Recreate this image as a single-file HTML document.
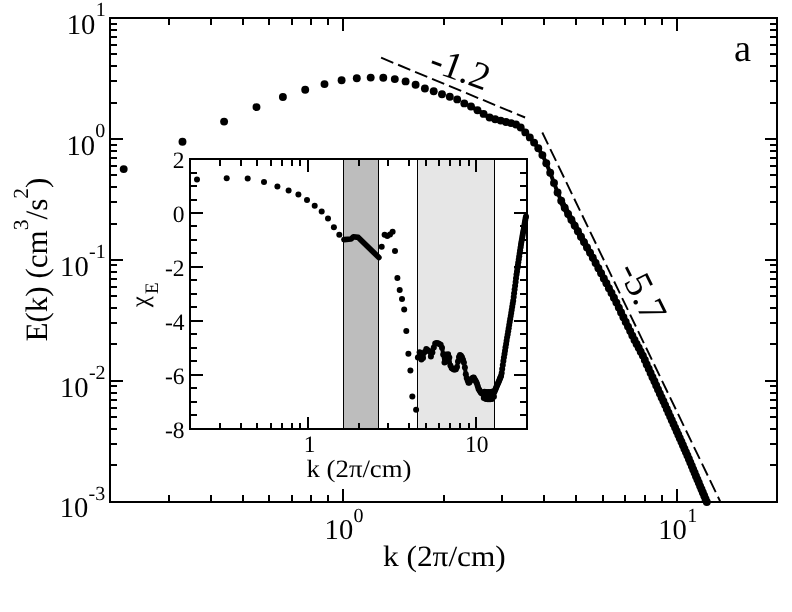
<!DOCTYPE html>
<html><head><meta charset="utf-8"><title>E(k)</title>
<style>
html,body{margin:0;padding:0;background:#fff;}
svg{display:block;will-change:transform;}
text{font-family:"Liberation Serif",serif;fill:#000;text-rendering:geometricPrecision;}
</style></head><body>
<svg width="792" height="612" viewBox="0 0 792 612">
<rect x="0" y="0" width="792" height="612" fill="#fff"/>
<g fill="#000">
<circle cx="123.7" cy="169.1" r="3.95"/>
<circle cx="182.5" cy="141.7" r="3.95"/>
<circle cx="224.1" cy="121.6" r="3.95"/>
<circle cx="256.5" cy="107.1" r="3.95"/>
<circle cx="282.9" cy="97.0" r="3.95"/>
<circle cx="305.2" cy="89.8" r="3.95"/>
<circle cx="324.5" cy="84.1" r="3.95"/>
<circle cx="341.6" cy="80.2" r="3.95"/>
<circle cx="356.8" cy="78.2" r="3.95"/>
<circle cx="370.7" cy="77.6" r="3.95"/>
<circle cx="383.3" cy="77.7" r="3.95"/>
<circle cx="394.8" cy="79.1" r="3.95"/>
<circle cx="405.6" cy="81.4" r="3.95"/>
<circle cx="415.6" cy="84.8" r="3.95"/>
<circle cx="424.9" cy="88.5" r="3.95"/>
<circle cx="433.7" cy="91.2" r="3.95"/>
<circle cx="442.0" cy="94.3" r="3.95"/>
<circle cx="449.8" cy="96.7" r="3.95"/>
<circle cx="457.2" cy="99.4" r="3.95"/>
<circle cx="464.3" cy="103.4" r="3.95"/>
<circle cx="471.0" cy="106.5" r="3.95"/>
<circle cx="477.5" cy="110.2" r="3.95"/>
<circle cx="483.6" cy="113.9" r="3.95"/>
<circle cx="489.6" cy="117.5" r="3.95"/>
<circle cx="495.2" cy="119.2" r="3.95"/>
<circle cx="500.7" cy="120.6" r="3.95"/>
<circle cx="506.0" cy="122.0" r="3.95"/>
<circle cx="511.1" cy="123.1" r="3.95"/>
<circle cx="516.0" cy="124.5" r="3.95"/>
<circle cx="520.7" cy="127.5" r="3.95"/>
<circle cx="525.3" cy="132.4" r="3.95"/>
<circle cx="529.8" cy="137.4" r="3.95"/>
<circle cx="534.1" cy="142.6" r="3.95"/>
<circle cx="538.3" cy="148.3" r="3.95"/>
<circle cx="542.4" cy="155.1" r="3.95"/>
<circle cx="546.3" cy="163.2" r="3.95"/>
<circle cx="550.2" cy="172.8" r="3.95"/>
<circle cx="554.0" cy="182.9" r="3.95"/>
<circle cx="557.6" cy="192.5" r="3.95"/>
<circle cx="561.2" cy="200.7" r="3.95"/>
<circle cx="564.7" cy="207.8" r="3.95"/>
<circle cx="568.1" cy="213.9" r="3.95"/>
<circle cx="571.4" cy="219.8" r="3.95"/>
<circle cx="574.7" cy="225.6" r="3.95"/>
<circle cx="577.9" cy="231.2" r="3.95"/>
<circle cx="581.0" cy="236.7" r="3.95"/>
<circle cx="584.0" cy="242.1" r="3.95"/>
<circle cx="587.0" cy="247.4" r="3.95"/>
<circle cx="590.0" cy="252.6" r="3.95"/>
<circle cx="592.8" cy="257.7" r="3.95"/>
<circle cx="595.6" cy="262.9" r="3.95"/>
<circle cx="598.4" cy="268.2" r="3.95"/>
<circle cx="601.1" cy="273.3" r="3.95"/>
<circle cx="603.8" cy="278.4" r="3.95"/>
<circle cx="606.4" cy="283.3" r="3.95"/>
<circle cx="608.9" cy="288.2" r="3.95"/>
<circle cx="611.5" cy="293.0" r="3.95"/>
<circle cx="613.9" cy="297.7" r="3.95"/>
<circle cx="616.4" cy="302.6" r="3.95"/>
<circle cx="618.8" cy="307.6" r="3.95"/>
<circle cx="621.1" cy="312.4" r="3.95"/>
<circle cx="623.4" cy="317.2" r="3.95"/>
<circle cx="625.7" cy="321.9" r="3.95"/>
<circle cx="628.0" cy="326.6" r="3.95"/>
<circle cx="630.2" cy="331.1" r="3.95"/>
<circle cx="632.3" cy="335.6" r="3.95"/>
<circle cx="634.5" cy="339.9" r="3.95"/>
<circle cx="636.6" cy="343.9" r="3.95"/>
<circle cx="638.7" cy="347.8" r="3.95"/>
<circle cx="640.7" cy="351.7" r="3.95"/>
<circle cx="642.8" cy="355.6" r="3.95"/>
<circle cx="644.8" cy="360.0" r="3.95"/>
<circle cx="646.7" cy="364.4" r="3.95"/>
<circle cx="648.7" cy="368.7" r="3.95"/>
<circle cx="650.6" cy="373.0" r="3.95"/>
<circle cx="652.5" cy="377.2" r="3.95"/>
<circle cx="654.4" cy="381.3" r="3.95"/>
<circle cx="656.2" cy="385.4" r="3.95"/>
<circle cx="658.0" cy="389.5" r="3.95"/>
<circle cx="659.8" cy="393.5" r="3.95"/>
<circle cx="661.6" cy="397.4" r="3.95"/>
<circle cx="663.4" cy="401.3" r="3.95"/>
<circle cx="665.1" cy="405.1" r="3.95"/>
<circle cx="666.8" cy="409.0" r="3.95"/>
<circle cx="668.5" cy="412.8" r="3.95"/>
<circle cx="670.2" cy="416.6" r="3.95"/>
<circle cx="671.8" cy="420.3" r="3.95"/>
<circle cx="673.5" cy="424.0" r="3.95"/>
<circle cx="675.1" cy="427.6" r="3.95"/>
<circle cx="676.7" cy="431.2" r="3.95"/>
<circle cx="678.3" cy="434.8" r="3.95"/>
<circle cx="679.8" cy="438.3" r="3.95"/>
<circle cx="681.4" cy="441.8" r="3.95"/>
<circle cx="682.9" cy="445.3" r="3.95"/>
<circle cx="684.4" cy="448.7" r="3.95"/>
<circle cx="685.9" cy="452.1" r="3.95"/>
<circle cx="687.4" cy="455.5" r="3.95"/>
<circle cx="688.9" cy="459.0" r="3.95"/>
<circle cx="690.3" cy="462.5" r="3.95"/>
<circle cx="691.8" cy="466.0" r="3.95"/>
<circle cx="693.2" cy="469.4" r="3.95"/>
<circle cx="694.6" cy="472.8" r="3.95"/>
<circle cx="696.0" cy="476.2" r="3.95"/>
<circle cx="697.4" cy="479.5" r="3.95"/>
<circle cx="698.8" cy="482.8" r="3.95"/>
<circle cx="700.1" cy="486.1" r="3.95"/>
<circle cx="701.5" cy="489.3" r="3.95"/>
<circle cx="702.8" cy="492.5" r="3.95"/>
<circle cx="704.2" cy="495.7" r="3.95"/>
<circle cx="705.5" cy="498.9" r="3.95"/>
<circle cx="706.8" cy="502.0" r="3.95"/>
</g>
<polyline points="471.0,106.5 477.5,110.2 483.6,113.9 489.6,117.5 495.2,119.2 500.7,120.6 506.0,122.0 511.1,123.1 516.0,124.5 520.7,127.5 525.3,132.4 529.8,137.4 534.1,142.6 538.3,148.3 542.4,155.1 546.3,163.2 550.2,172.8 554.0,182.9 557.6,192.5 561.2,200.7 564.7,207.8" fill="none" stroke="#000" stroke-width="4" stroke-linejoin="round" stroke-linecap="round"/>
<polyline points="561.2,200.7 564.7,207.8 568.1,213.9 571.4,219.8 574.7,225.6 577.9,231.2 581.0,236.7 584.0,242.1 587.0,247.4 590.0,252.6 592.8,257.7 595.6,262.9 598.4,268.2 601.1,273.3 603.8,278.4 606.4,283.3 608.9,288.2 611.5,293.0 613.9,297.7 616.4,302.6 618.8,307.6 621.1,312.4 623.4,317.2 625.7,321.9 628.0,326.6 630.2,331.1 632.3,335.6 634.5,339.9 636.6,343.9 638.7,347.8 640.7,351.7 642.8,355.6 644.8,360.0 646.7,364.4 648.7,368.7 650.6,373.0 652.5,377.2 654.4,381.3 656.2,385.4 658.0,389.5 659.8,393.5 661.6,397.4 663.4,401.3 665.1,405.1 666.8,409.0 668.5,412.8 670.2,416.6 671.8,420.3 673.5,424.0 675.1,427.6 676.7,431.2 678.3,434.8 679.8,438.3 681.4,441.8 682.9,445.3 684.4,448.7 685.9,452.1 687.4,455.5 688.9,459.0 690.3,462.5 691.8,466.0 693.2,469.4 694.6,472.8 696.0,476.2 697.4,479.5 698.8,482.8 700.1,486.1 701.5,489.3 702.8,492.5 704.2,495.7 705.5,498.9 706.8,502.0" fill="none" stroke="#000" stroke-width="6" stroke-linejoin="round" stroke-linecap="round"/>
<g stroke="#000" stroke-width="1.9" fill="none" stroke-dasharray="13.2 5.18">
<line x1="381.1" y1="57.7" x2="525.1" y2="117.5"/>
<line x1="542.3" y1="132.5" x2="720.4" y2="501.8"/>
</g>
<g stroke="#000" stroke-width="2" fill="none" shape-rendering="crispEdges">
<rect x="110.2" y="18.0" width="667.0" height="483.8"/>
<line x1="168.9" y1="501.8" x2="168.9" y2="495.0"/>
<line x1="168.9" y1="18.0" x2="168.9" y2="24.8"/>
<line x1="210.6" y1="501.8" x2="210.6" y2="495.0"/>
<line x1="210.6" y1="18.0" x2="210.6" y2="24.8"/>
<line x1="242.9" y1="501.8" x2="242.9" y2="495.0"/>
<line x1="242.9" y1="18.0" x2="242.9" y2="24.8"/>
<line x1="269.3" y1="501.8" x2="269.3" y2="495.0"/>
<line x1="269.3" y1="18.0" x2="269.3" y2="24.8"/>
<line x1="291.6" y1="501.8" x2="291.6" y2="495.0"/>
<line x1="291.6" y1="18.0" x2="291.6" y2="24.8"/>
<line x1="311.0" y1="501.8" x2="311.0" y2="495.0"/>
<line x1="311.0" y1="18.0" x2="311.0" y2="24.8"/>
<line x1="328.0" y1="501.8" x2="328.0" y2="495.0"/>
<line x1="328.0" y1="18.0" x2="328.0" y2="24.8"/>
<line x1="343.3" y1="501.8" x2="343.3" y2="489.1"/>
<line x1="343.3" y1="18.0" x2="343.3" y2="30.7"/>
<line x1="443.7" y1="501.8" x2="443.7" y2="495.0"/>
<line x1="443.7" y1="18.0" x2="443.7" y2="24.8"/>
<line x1="502.4" y1="501.8" x2="502.4" y2="495.0"/>
<line x1="502.4" y1="18.0" x2="502.4" y2="24.8"/>
<line x1="544.1" y1="501.8" x2="544.1" y2="495.0"/>
<line x1="544.1" y1="18.0" x2="544.1" y2="24.8"/>
<line x1="576.4" y1="501.8" x2="576.4" y2="495.0"/>
<line x1="576.4" y1="18.0" x2="576.4" y2="24.8"/>
<line x1="602.8" y1="501.8" x2="602.8" y2="495.0"/>
<line x1="602.8" y1="18.0" x2="602.8" y2="24.8"/>
<line x1="625.1" y1="501.8" x2="625.1" y2="495.0"/>
<line x1="625.1" y1="18.0" x2="625.1" y2="24.8"/>
<line x1="644.5" y1="501.8" x2="644.5" y2="495.0"/>
<line x1="644.5" y1="18.0" x2="644.5" y2="24.8"/>
<line x1="661.5" y1="501.8" x2="661.5" y2="495.0"/>
<line x1="661.5" y1="18.0" x2="661.5" y2="24.8"/>
<line x1="676.8" y1="501.8" x2="676.8" y2="489.1"/>
<line x1="676.8" y1="18.0" x2="676.8" y2="30.7"/>
<line x1="110.2" y1="465.4" x2="117.0" y2="465.4"/>
<line x1="777.2" y1="465.4" x2="770.4000000000001" y2="465.4"/>
<line x1="110.2" y1="444.1" x2="117.0" y2="444.1"/>
<line x1="777.2" y1="444.1" x2="770.4000000000001" y2="444.1"/>
<line x1="110.2" y1="429.0" x2="117.0" y2="429.0"/>
<line x1="777.2" y1="429.0" x2="770.4000000000001" y2="429.0"/>
<line x1="110.2" y1="417.3" x2="117.0" y2="417.3"/>
<line x1="777.2" y1="417.3" x2="770.4000000000001" y2="417.3"/>
<line x1="110.2" y1="407.7" x2="117.0" y2="407.7"/>
<line x1="777.2" y1="407.7" x2="770.4000000000001" y2="407.7"/>
<line x1="110.2" y1="399.6" x2="117.0" y2="399.6"/>
<line x1="777.2" y1="399.6" x2="770.4000000000001" y2="399.6"/>
<line x1="110.2" y1="392.6" x2="117.0" y2="392.6"/>
<line x1="777.2" y1="392.6" x2="770.4000000000001" y2="392.6"/>
<line x1="110.2" y1="386.4" x2="117.0" y2="386.4"/>
<line x1="777.2" y1="386.4" x2="770.4000000000001" y2="386.4"/>
<line x1="110.2" y1="380.9" x2="122.9" y2="380.9"/>
<line x1="777.2" y1="380.9" x2="764.5" y2="380.9"/>
<line x1="110.2" y1="344.4" x2="117.0" y2="344.4"/>
<line x1="777.2" y1="344.4" x2="770.4000000000001" y2="344.4"/>
<line x1="110.2" y1="323.1" x2="117.0" y2="323.1"/>
<line x1="777.2" y1="323.1" x2="770.4000000000001" y2="323.1"/>
<line x1="110.2" y1="308.0" x2="117.0" y2="308.0"/>
<line x1="777.2" y1="308.0" x2="770.4000000000001" y2="308.0"/>
<line x1="110.2" y1="296.3" x2="117.0" y2="296.3"/>
<line x1="777.2" y1="296.3" x2="770.4000000000001" y2="296.3"/>
<line x1="110.2" y1="286.7" x2="117.0" y2="286.7"/>
<line x1="777.2" y1="286.7" x2="770.4000000000001" y2="286.7"/>
<line x1="110.2" y1="278.6" x2="117.0" y2="278.6"/>
<line x1="777.2" y1="278.6" x2="770.4000000000001" y2="278.6"/>
<line x1="110.2" y1="271.6" x2="117.0" y2="271.6"/>
<line x1="777.2" y1="271.6" x2="770.4000000000001" y2="271.6"/>
<line x1="110.2" y1="265.4" x2="117.0" y2="265.4"/>
<line x1="777.2" y1="265.4" x2="770.4000000000001" y2="265.4"/>
<line x1="110.2" y1="259.9" x2="122.9" y2="259.9"/>
<line x1="777.2" y1="259.9" x2="764.5" y2="259.9"/>
<line x1="110.2" y1="223.5" x2="117.0" y2="223.5"/>
<line x1="777.2" y1="223.5" x2="770.4000000000001" y2="223.5"/>
<line x1="110.2" y1="202.2" x2="117.0" y2="202.2"/>
<line x1="777.2" y1="202.2" x2="770.4000000000001" y2="202.2"/>
<line x1="110.2" y1="187.1" x2="117.0" y2="187.1"/>
<line x1="777.2" y1="187.1" x2="770.4000000000001" y2="187.1"/>
<line x1="110.2" y1="175.4" x2="117.0" y2="175.4"/>
<line x1="777.2" y1="175.4" x2="770.4000000000001" y2="175.4"/>
<line x1="110.2" y1="165.8" x2="117.0" y2="165.8"/>
<line x1="777.2" y1="165.8" x2="770.4000000000001" y2="165.8"/>
<line x1="110.2" y1="157.7" x2="117.0" y2="157.7"/>
<line x1="777.2" y1="157.7" x2="770.4000000000001" y2="157.7"/>
<line x1="110.2" y1="150.7" x2="117.0" y2="150.7"/>
<line x1="777.2" y1="150.7" x2="770.4000000000001" y2="150.7"/>
<line x1="110.2" y1="144.5" x2="117.0" y2="144.5"/>
<line x1="777.2" y1="144.5" x2="770.4000000000001" y2="144.5"/>
<line x1="110.2" y1="138.9" x2="122.9" y2="138.9"/>
<line x1="777.2" y1="138.9" x2="764.5" y2="138.9"/>
<line x1="110.2" y1="102.5" x2="117.0" y2="102.5"/>
<line x1="777.2" y1="102.5" x2="770.4000000000001" y2="102.5"/>
<line x1="110.2" y1="81.2" x2="117.0" y2="81.2"/>
<line x1="777.2" y1="81.2" x2="770.4000000000001" y2="81.2"/>
<line x1="110.2" y1="66.1" x2="117.0" y2="66.1"/>
<line x1="777.2" y1="66.1" x2="770.4000000000001" y2="66.1"/>
<line x1="110.2" y1="54.4" x2="117.0" y2="54.4"/>
<line x1="777.2" y1="54.4" x2="770.4000000000001" y2="54.4"/>
<line x1="110.2" y1="44.8" x2="117.0" y2="44.8"/>
<line x1="777.2" y1="44.8" x2="770.4000000000001" y2="44.8"/>
<line x1="110.2" y1="36.7" x2="117.0" y2="36.7"/>
<line x1="777.2" y1="36.7" x2="770.4000000000001" y2="36.7"/>
<line x1="110.2" y1="29.7" x2="117.0" y2="29.7"/>
<line x1="777.2" y1="29.7" x2="770.4000000000001" y2="29.7"/>
<line x1="110.2" y1="23.5" x2="117.0" y2="23.5"/>
<line x1="777.2" y1="23.5" x2="770.4000000000001" y2="23.5"/>
</g>
<text x="66.8" y="33.6" font-size="28.6">10</text><text x="95.7" y="16.4" font-size="20.0">1</text>
<text x="66.4" y="154.5" font-size="28.6">10</text><text x="95.3" y="137.3" font-size="20.0">0</text>
<text x="60.1" y="275.5" font-size="28.6">10</text><text x="89.0" y="258.3" font-size="20.0">-1</text>
<text x="60.0" y="396.5" font-size="28.6">10</text><text x="88.9" y="379.3" font-size="20.0">-2</text>
<text x="59.7" y="517.4" font-size="28.6">10</text><text x="88.6" y="500.2" font-size="20.0">-3</text>
<text x="324.6" y="539.0" font-size="28.6">10</text><text x="353.5" y="521.8" font-size="20.0">0</text>
<text x="658.3" y="539.0" font-size="28.6">10</text><text x="687.2" y="521.8" font-size="20.0">1</text>
<text x="383.0" y="566.2" font-size="29.4" textLength="122.8" lengthAdjust="spacingAndGlyphs">k (2π/cm)</text>
<g transform="translate(46.6,341.6) rotate(-90)"><text x="0" y="0" font-size="31.1">E(k) (cm<tspan font-size="21.5" dy="-18.4">3</tspan><tspan dy="18.4">/s</tspan><tspan font-size="21.5" dy="-18.4">2</tspan><tspan dy="18.4">)</tspan></text></g>
<text x="734" y="60.6" font-size="38.5">a</text>
<g transform="translate(427.4,69.9) rotate(20)"><text x="0" y="0" font-size="38.5">-1.2</text></g>
<g transform="translate(617.6,270.0) rotate(63.5)"><text x="0" y="0" font-size="38.5">-5.7</text></g>
<rect x="190.2" y="159.0" width="336.7" height="269.8" fill="#fff"/>
<rect x="343.6" y="159.0" width="34.9" height="269.8" fill="#bdbdbd" stroke="#000" stroke-width="1" shape-rendering="crispEdges"/>
<rect x="417.6" y="159.0" width="76.7" height="269.8" fill="#e6e6e6" stroke="#000" stroke-width="1" shape-rendering="crispEdges"/>
<g fill="#000">
<circle cx="197.0" cy="179.6" r="3.0"/>
<circle cx="226.7" cy="178.2" r="3.0"/>
<circle cx="247.7" cy="178.5" r="3.0"/>
<circle cx="264.0" cy="182.0" r="3.0"/>
<circle cx="277.4" cy="186.6" r="3.0"/>
<circle cx="288.6" cy="190.5" r="3.0"/>
<circle cx="298.4" cy="194.5" r="3.0"/>
<circle cx="307.0" cy="200.0" r="3.0"/>
<circle cx="314.7" cy="205.7" r="3.0"/>
<circle cx="321.7" cy="211.4" r="3.0"/>
<circle cx="328.0" cy="218.4" r="3.0"/>
<circle cx="333.9" cy="227.3" r="3.0"/>
<circle cx="339.3" cy="234.8" r="3.0"/>
<circle cx="381.7" cy="246.8" r="3.0"/>
<circle cx="384.6" cy="234.8" r="3.0"/>
<circle cx="387.3" cy="236.0" r="3.0"/>
<circle cx="390.0" cy="234.5" r="3.0"/>
<circle cx="392.6" cy="231.8" r="3.0"/>
<circle cx="395.0" cy="250.9" r="3.0"/>
<circle cx="397.4" cy="277.9" r="3.0"/>
<circle cx="399.7" cy="290.0" r="3.0"/>
<circle cx="402.0" cy="298.9" r="3.0"/>
<circle cx="404.2" cy="309.4" r="3.0"/>
<circle cx="406.3" cy="331.0" r="3.0"/>
<circle cx="408.4" cy="353.8" r="3.0"/>
<circle cx="410.4" cy="370.6" r="3.0"/>
<circle cx="412.3" cy="396.4" r="3.0"/>
<circle cx="416.1" cy="409.8" r="3.0"/>
<circle cx="417.9" cy="357.5" r="3.0"/>
<circle cx="419.6" cy="352.3" r="3.0"/>
<circle cx="421.4" cy="359.5" r="3.0"/>
<circle cx="423.0" cy="358.0" r="3.0"/>
<circle cx="424.7" cy="352.0" r="3.0"/>
<circle cx="426.3" cy="349.1" r="3.0"/>
<circle cx="427.9" cy="350.2" r="3.0"/>
<circle cx="429.4" cy="351.3" r="3.0"/>
<circle cx="430.9" cy="356.6" r="3.0"/>
<circle cx="432.4" cy="352.6" r="3.0"/>
<circle cx="433.8" cy="347.4" r="3.0"/>
<circle cx="435.2" cy="343.5" r="3.0"/>
<circle cx="436.6" cy="343.0" r="3.0"/>
<circle cx="438.0" cy="343.2" r="3.0"/>
<circle cx="439.3" cy="344.0" r="3.0"/>
<circle cx="440.7" cy="344.8" r="3.0"/>
<circle cx="442.0" cy="347.7" r="3.0"/>
<circle cx="443.2" cy="354.4" r="3.0"/>
<circle cx="444.5" cy="362.6" r="3.0"/>
<circle cx="445.7" cy="354.6" r="3.0"/>
<circle cx="446.9" cy="361.5" r="3.0"/>
<circle cx="448.1" cy="354.2" r="3.0"/>
<circle cx="449.3" cy="357.5" r="3.0"/>
<circle cx="450.4" cy="365.4" r="3.0"/>
<circle cx="451.6" cy="367.9" r="3.0"/>
<circle cx="452.7" cy="368.8" r="3.0"/>
<circle cx="453.8" cy="369.4" r="3.0"/>
<circle cx="454.9" cy="369.6" r="3.0"/>
<circle cx="455.9" cy="369.3" r="3.0"/>
<circle cx="457.0" cy="367.0" r="3.0"/>
<circle cx="458.0" cy="361.6" r="3.0"/>
<circle cx="459.0" cy="357.0" r="3.0"/>
<circle cx="460.0" cy="355.1" r="3.0"/>
<circle cx="461.0" cy="355.8" r="3.0"/>
<circle cx="462.0" cy="357.2" r="3.0"/>
<circle cx="463.0" cy="359.7" r="3.0"/>
<circle cx="463.9" cy="362.6" r="3.0"/>
<circle cx="464.9" cy="367.4" r="3.0"/>
<circle cx="465.8" cy="374.2" r="3.0"/>
<circle cx="466.7" cy="378.1" r="3.0"/>
<circle cx="467.7" cy="380.4" r="3.0"/>
<circle cx="468.5" cy="382.7" r="3.0"/>
<circle cx="469.4" cy="382.5" r="3.0"/>
<circle cx="470.3" cy="380.8" r="3.0"/>
<circle cx="471.2" cy="379.5" r="3.0"/>
<circle cx="472.0" cy="378.6" r="3.0"/>
<circle cx="472.9" cy="377.7" r="3.0"/>
<circle cx="473.7" cy="377.4" r="3.0"/>
<circle cx="474.5" cy="379.0" r="3.0"/>
<circle cx="475.4" cy="380.5" r="3.0"/>
<circle cx="476.2" cy="382.1" r="3.0"/>
<circle cx="477.0" cy="383.8" r="3.0"/>
<circle cx="477.8" cy="386.3" r="3.0"/>
<circle cx="478.5" cy="388.7" r="3.0"/>
<circle cx="479.3" cy="390.1" r="3.0"/>
<circle cx="480.1" cy="391.3" r="3.0"/>
<circle cx="480.8" cy="392.4" r="3.0"/>
<circle cx="481.6" cy="393.3" r="3.0"/>
<circle cx="482.3" cy="393.2" r="3.0"/>
<circle cx="483.1" cy="394.3" r="3.0"/>
<circle cx="483.8" cy="398.0" r="3.0"/>
<circle cx="484.5" cy="391.7" r="3.0"/>
<circle cx="485.2" cy="395.4" r="3.0"/>
<circle cx="485.9" cy="399.1" r="3.0"/>
<circle cx="486.6" cy="391.9" r="3.0"/>
<circle cx="487.3" cy="395.5" r="3.0"/>
<circle cx="488.0" cy="399.2" r="3.0"/>
<circle cx="488.7" cy="392.0" r="3.0"/>
<circle cx="489.4" cy="395.6" r="3.0"/>
<circle cx="490.0" cy="399.3" r="3.0"/>
<circle cx="490.7" cy="392.1" r="3.0"/>
<circle cx="491.3" cy="395.6" r="3.0"/>
<circle cx="492.0" cy="398.9" r="3.0"/>
<circle cx="492.6" cy="391.4" r="3.0"/>
<circle cx="493.3" cy="394.7" r="3.0"/>
<circle cx="493.9" cy="396.8" r="3.0"/>
<circle cx="494.5" cy="391.7" r="3.0"/>
<circle cx="495.2" cy="390.1" r="3.0"/>
<circle cx="495.8" cy="388.6" r="3.0"/>
<circle cx="496.4" cy="387.1" r="3.0"/>
<circle cx="497.0" cy="385.6" r="3.0"/>
<circle cx="497.6" cy="384.2" r="3.0"/>
<circle cx="498.2" cy="382.8" r="3.0"/>
<circle cx="498.8" cy="381.4" r="3.0"/>
<circle cx="499.4" cy="379.9" r="3.0"/>
<circle cx="500.0" cy="378.6" r="3.0"/>
<circle cx="500.5" cy="377.2" r="3.0"/>
<circle cx="501.1" cy="375.8" r="3.0"/>
<circle cx="501.7" cy="373.1" r="3.0"/>
<circle cx="502.2" cy="369.0" r="3.0"/>
<circle cx="502.8" cy="364.9" r="3.0"/>
<circle cx="503.4" cy="361.0" r="3.0"/>
<circle cx="503.9" cy="357.6" r="3.0"/>
<circle cx="504.5" cy="354.1" r="3.0"/>
<circle cx="505.0" cy="350.7" r="3.0"/>
<circle cx="505.5" cy="347.3" r="3.0"/>
<circle cx="506.1" cy="344.0" r="3.0"/>
<circle cx="506.6" cy="340.8" r="3.0"/>
<circle cx="507.1" cy="337.6" r="3.0"/>
<circle cx="507.7" cy="334.5" r="3.0"/>
<circle cx="508.2" cy="331.3" r="3.0"/>
<circle cx="508.7" cy="328.2" r="3.0"/>
<circle cx="509.2" cy="325.1" r="3.0"/>
<circle cx="509.7" cy="322.1" r="3.0"/>
<circle cx="510.2" cy="319.0" r="3.0"/>
<circle cx="510.7" cy="316.0" r="3.0"/>
<circle cx="511.2" cy="312.9" r="3.0"/>
<circle cx="511.7" cy="309.9" r="3.0"/>
<circle cx="512.2" cy="306.8" r="3.0"/>
<circle cx="512.7" cy="303.7" r="3.0"/>
<circle cx="513.2" cy="300.7" r="3.0"/>
<circle cx="513.7" cy="297.0" r="3.0"/>
<circle cx="514.1" cy="293.2" r="3.0"/>
<circle cx="514.6" cy="289.4" r="3.0"/>
<circle cx="515.1" cy="285.7" r="3.0"/>
<circle cx="515.6" cy="281.9" r="3.0"/>
<circle cx="516.0" cy="278.2" r="3.0"/>
<circle cx="516.5" cy="274.5" r="3.0"/>
<circle cx="517.0" cy="271.4" r="3.0"/>
<circle cx="517.4" cy="268.3" r="3.0"/>
<circle cx="517.9" cy="265.3" r="3.0"/>
<circle cx="518.3" cy="262.2" r="3.0"/>
<circle cx="518.8" cy="259.2" r="3.0"/>
<circle cx="519.2" cy="256.2" r="3.0"/>
<circle cx="519.7" cy="253.2" r="3.0"/>
<circle cx="520.1" cy="250.3" r="3.0"/>
<circle cx="520.6" cy="247.3" r="3.0"/>
<circle cx="521.0" cy="244.5" r="3.0"/>
<circle cx="521.4" cy="242.0" r="3.0"/>
<circle cx="521.9" cy="239.6" r="3.0"/>
<circle cx="522.3" cy="237.1" r="3.0"/>
<circle cx="522.7" cy="234.7" r="3.0"/>
<circle cx="523.1" cy="232.3" r="3.0"/>
<circle cx="523.6" cy="229.9" r="3.0"/>
<circle cx="524.0" cy="227.5" r="3.0"/>
<circle cx="524.4" cy="225.1" r="3.0"/>
<circle cx="524.8" cy="222.8" r="3.0"/>
<circle cx="525.2" cy="220.4" r="3.0"/>
<circle cx="525.6" cy="218.1" r="3.0"/>
<circle cx="526.0" cy="216.5" r="3.0"/>
</g>
<polyline points="417.9,357.5 419.6,352.3 421.4,359.5 423.0,358.0 424.7,352.0 426.3,349.1 427.9,350.2 429.4,351.3 430.9,356.6 432.4,352.6 433.8,347.4 435.2,343.5 436.6,343.0 438.0,343.2 439.3,344.0 440.7,344.8 442.0,347.7 443.2,354.4 444.5,362.6 445.7,354.6 446.9,361.5 448.1,354.2 449.3,357.5 450.4,365.4 451.6,367.9 452.7,368.8 453.8,369.4 454.9,369.6 455.9,369.3 457.0,367.0 458.0,361.6 459.0,357.0 460.0,355.1 461.0,355.8 462.0,357.2 463.0,359.7 463.9,362.6 464.9,367.4 465.8,374.2 466.7,378.1 467.7,380.4 468.5,382.7 469.4,382.5 470.3,380.8 471.2,379.5 472.0,378.6 472.9,377.7 473.7,377.4 474.5,379.0 475.4,380.5 476.2,382.1 477.0,383.8 477.8,386.3 478.5,388.7 479.3,390.1 480.1,391.3 480.8,392.4 481.6,393.3 482.3,393.2 483.1,394.3 483.8,398.0 484.5,391.7 485.2,395.4 485.9,399.1 486.6,391.9 487.3,395.5 488.0,399.2 488.7,392.0 489.4,395.6 490.0,399.3 490.7,392.1 491.3,395.6 492.0,398.9 492.6,391.4 493.3,394.7 493.9,396.8 494.5,391.7 495.2,390.1 495.8,388.6 496.4,387.1 497.0,385.6 497.6,384.2 498.2,382.8 498.8,381.4 499.4,379.9 500.0,378.6 500.5,377.2 501.1,375.8 501.7,373.1 502.2,369.0 502.8,364.9 503.4,361.0 503.9,357.6 504.5,354.1 505.0,350.7 505.5,347.3 506.1,344.0 506.6,340.8 507.1,337.6 507.7,334.5 508.2,331.3 508.7,328.2 509.2,325.1 509.7,322.1 510.2,319.0 510.7,316.0 511.2,312.9 511.7,309.9 512.2,306.8 512.7,303.7 513.2,300.7 513.7,297.0 514.1,293.2 514.6,289.4 515.1,285.7 515.6,281.9 516.0,278.2 516.5,274.5 517.0,271.4 517.4,268.3 517.9,265.3 518.3,262.2 518.8,259.2 519.2,256.2 519.7,253.2 520.1,250.3 520.6,247.3 521.0,244.5 521.4,242.0 521.9,239.6 522.3,237.1 522.7,234.7 523.1,232.3 523.6,229.9 524.0,227.5 524.4,225.1 524.8,222.8 525.2,220.4 525.6,218.1 526.0,216.5" fill="none" stroke="#000" stroke-width="4" stroke-linejoin="round" stroke-linecap="round"/>
<polyline points="343.9,239.6 351.1,239.0 353.4,236.8 358.3,237.4 378.9,257.6" fill="none" stroke="#000" stroke-width="5.6" stroke-linecap="round" stroke-linejoin="round"/>
<g stroke="#000" stroke-width="2" fill="none" shape-rendering="crispEdges">
<rect x="190.2" y="159.0" width="336.7" height="269.8"/>
<line x1="219.8" y1="428.8" x2="219.8" y2="423.0"/>
<line x1="219.8" y1="159.0" x2="219.8" y2="165.5"/>
<line x1="240.9" y1="428.8" x2="240.9" y2="423.0"/>
<line x1="240.9" y1="159.0" x2="240.9" y2="165.5"/>
<line x1="257.2" y1="428.8" x2="257.2" y2="423.0"/>
<line x1="257.2" y1="159.0" x2="257.2" y2="165.5"/>
<line x1="270.5" y1="428.8" x2="270.5" y2="423.0"/>
<line x1="270.5" y1="159.0" x2="270.5" y2="165.5"/>
<line x1="281.8" y1="428.8" x2="281.8" y2="423.0"/>
<line x1="281.8" y1="159.0" x2="281.8" y2="165.5"/>
<line x1="291.6" y1="428.8" x2="291.6" y2="423.0"/>
<line x1="291.6" y1="159.0" x2="291.6" y2="165.5"/>
<line x1="300.2" y1="428.8" x2="300.2" y2="423.0"/>
<line x1="300.2" y1="159.0" x2="300.2" y2="165.5"/>
<line x1="307.9" y1="428.8" x2="307.9" y2="417.0"/>
<line x1="307.9" y1="159.0" x2="307.9" y2="171.5"/>
<line x1="358.5" y1="428.8" x2="358.5" y2="423.0"/>
<line x1="358.5" y1="159.0" x2="358.5" y2="165.5"/>
<line x1="388.2" y1="428.8" x2="388.2" y2="423.0"/>
<line x1="388.2" y1="159.0" x2="388.2" y2="165.5"/>
<line x1="409.2" y1="428.8" x2="409.2" y2="423.0"/>
<line x1="409.2" y1="159.0" x2="409.2" y2="165.5"/>
<line x1="425.5" y1="428.8" x2="425.5" y2="423.0"/>
<line x1="425.5" y1="159.0" x2="425.5" y2="165.5"/>
<line x1="438.9" y1="428.8" x2="438.9" y2="423.0"/>
<line x1="438.9" y1="159.0" x2="438.9" y2="165.5"/>
<line x1="450.1" y1="428.8" x2="450.1" y2="423.0"/>
<line x1="450.1" y1="159.0" x2="450.1" y2="165.5"/>
<line x1="459.9" y1="428.8" x2="459.9" y2="423.0"/>
<line x1="459.9" y1="159.0" x2="459.9" y2="165.5"/>
<line x1="468.5" y1="428.8" x2="468.5" y2="423.0"/>
<line x1="468.5" y1="159.0" x2="468.5" y2="165.5"/>
<line x1="476.2" y1="428.8" x2="476.2" y2="417.0"/>
<line x1="476.2" y1="159.0" x2="476.2" y2="171.5"/>
<line x1="190.2" y1="172.5" x2="196.7" y2="172.5"/>
<line x1="526.9" y1="172.5" x2="520.4" y2="172.5"/>
<line x1="190.2" y1="186.0" x2="196.7" y2="186.0"/>
<line x1="526.9" y1="186.0" x2="520.4" y2="186.0"/>
<line x1="190.2" y1="199.5" x2="196.7" y2="199.5"/>
<line x1="526.9" y1="199.5" x2="520.4" y2="199.5"/>
<line x1="190.2" y1="213.0" x2="202.7" y2="213.0"/>
<line x1="526.9" y1="213.0" x2="514.4" y2="213.0"/>
<line x1="190.2" y1="226.4" x2="196.7" y2="226.4"/>
<line x1="526.9" y1="226.4" x2="520.4" y2="226.4"/>
<line x1="190.2" y1="239.9" x2="196.7" y2="239.9"/>
<line x1="526.9" y1="239.9" x2="520.4" y2="239.9"/>
<line x1="190.2" y1="253.4" x2="196.7" y2="253.4"/>
<line x1="526.9" y1="253.4" x2="520.4" y2="253.4"/>
<line x1="190.2" y1="266.9" x2="202.7" y2="266.9"/>
<line x1="526.9" y1="266.9" x2="514.4" y2="266.9"/>
<line x1="190.2" y1="280.4" x2="196.7" y2="280.4"/>
<line x1="526.9" y1="280.4" x2="520.4" y2="280.4"/>
<line x1="190.2" y1="293.9" x2="196.7" y2="293.9"/>
<line x1="526.9" y1="293.9" x2="520.4" y2="293.9"/>
<line x1="190.2" y1="307.4" x2="196.7" y2="307.4"/>
<line x1="526.9" y1="307.4" x2="520.4" y2="307.4"/>
<line x1="190.2" y1="320.9" x2="202.7" y2="320.9"/>
<line x1="526.9" y1="320.9" x2="514.4" y2="320.9"/>
<line x1="190.2" y1="334.4" x2="196.7" y2="334.4"/>
<line x1="526.9" y1="334.4" x2="520.4" y2="334.4"/>
<line x1="190.2" y1="347.9" x2="196.7" y2="347.9"/>
<line x1="526.9" y1="347.9" x2="520.4" y2="347.9"/>
<line x1="190.2" y1="361.4" x2="196.7" y2="361.4"/>
<line x1="526.9" y1="361.4" x2="520.4" y2="361.4"/>
<line x1="190.2" y1="374.8" x2="202.7" y2="374.8"/>
<line x1="526.9" y1="374.8" x2="514.4" y2="374.8"/>
<line x1="190.2" y1="388.3" x2="196.7" y2="388.3"/>
<line x1="526.9" y1="388.3" x2="520.4" y2="388.3"/>
<line x1="190.2" y1="401.8" x2="196.7" y2="401.8"/>
<line x1="526.9" y1="401.8" x2="520.4" y2="401.8"/>
<line x1="190.2" y1="415.3" x2="196.7" y2="415.3"/>
<line x1="526.9" y1="415.3" x2="520.4" y2="415.3"/>
</g>
<text x="184.6" y="167.7" font-size="23.5" text-anchor="end">2</text>
<text x="184.6" y="221.7" font-size="23.5" text-anchor="end">0</text>
<text x="184.6" y="275.6" font-size="23.5" text-anchor="end">-2</text>
<text x="184.6" y="329.6" font-size="23.5" text-anchor="end">-4</text>
<text x="184.6" y="383.5" font-size="23.5" text-anchor="end">-6</text>
<text x="184.6" y="437.5" font-size="23.5" text-anchor="end">-8</text>
<text x="309.5" y="451.8" font-size="23.5" text-anchor="middle">1</text>
<text x="476.8" y="451.8" font-size="23.5" text-anchor="middle">10</text>
<text x="306.5" y="476.6" font-size="25" textLength="105" lengthAdjust="spacingAndGlyphs">k (2π/cm)</text>
<g transform="translate(148.2,307.2) rotate(-90)"><text x="0" y="0" font-size="25">χ<tspan font-size="19" dy="9.8" dx="2">E</tspan></text></g>
</svg></body></html>
